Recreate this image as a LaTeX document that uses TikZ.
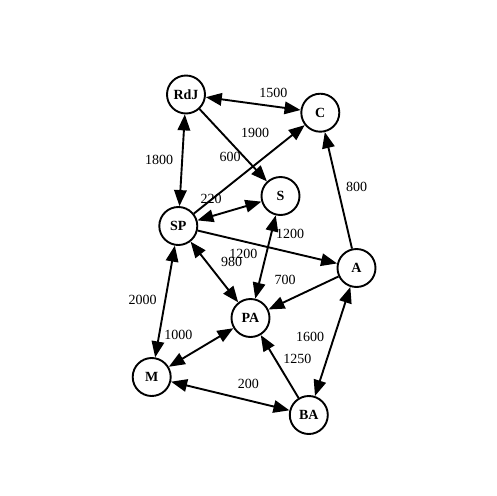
\documentclass[tikz,border=0pt]{standalone}
\usepackage{fontspec}
\setmainfont{Liberation Serif}
\usetikzlibrary{arrows.meta}
\begin{document}
\begin{tikzpicture}[x=1pt,y=-1pt,
  city/.style={circle,draw,line width=1.9pt,minimum size=38pt,inner sep=0pt,
    font=\fontsize{14}{16}\selectfont\bfseries,text height=9.3pt,text depth=0pt},
  road/.style={line width=1.9pt},
  dist/.style={font=\fontsize{14}{16}\selectfont,inner sep=0pt},
  >={Triangle[length=16pt,width=12.5pt]}]
\useasboundingbox (0,0) rectangle (496,496);
\fill[white] (0,0) rectangle (496,496);
\node[city] (RdJ) at (186,94.5) {RdJ};
\node[city] (C) at (320.3,112.7) {C};
\node[city] (S) at (280.5,196) {S};
\node[city] (SP) at (178.3,226) {SP};
\node[city] (A) at (356.5,268) {A};
\node[city] (PA) at (250.5,318) {PA};
\node[city] (M) at (151.7,377) {M};
\node[city] (BA) at (308.8,415) {BA};
\draw[road,<->] (RdJ) -- (C);
\draw[road,->] (RdJ) -- (S);
\draw[road,<->] (RdJ) -- (SP);
\draw[road,->] (SP) -- (C);
\draw[road,<->] (SP) -- (S);
\draw[road,->] (SP) -- (A);
\draw[road,<->] (SP) -- (PA);
\draw[road,<->] (SP) -- (M);
\draw[road,->] (A) -- (C);
\draw[road,->] (A) -- (PA);
\draw[road,<->] (A) -- (BA);
\draw[road,<->] (PA) -- (S);
\draw[road,<->] (PA) -- (M);
\draw[road,->] (BA) -- (PA);
\draw[road,<->] (M) -- (BA);
\node[dist] (l1500) at (273.3,92.7) {1500};
\node[dist] (l1900) at (255,132.7) {1900};
\node[dist] (l600) at (230,157.3) {600};
\node[dist] (l1800) at (159,160) {1800};
\node[dist] (l800) at (356.7,187.3) {800};
\node[dist] (l220) at (211,199) {220};
\node[dist] (l1200a) at (290,234) {1200};
\node[dist] (l1200b) at (243.3,254) {1200};
\node[dist] (l980) at (231.7,261.7) {980};
\node[dist] (l700) at (285,280) {700};
\node[dist] (l2000) at (142.7,300) {2000};
\node[dist] (l1000) at (178.3,335) {1000};
\node[dist] (l1600) at (310,336.7) {1600};
\node[dist] (l1250) at (297.3,359.3) {1250};
\node[dist] (l200) at (248.3,384) {200};
\end{tikzpicture}
\end{document}
